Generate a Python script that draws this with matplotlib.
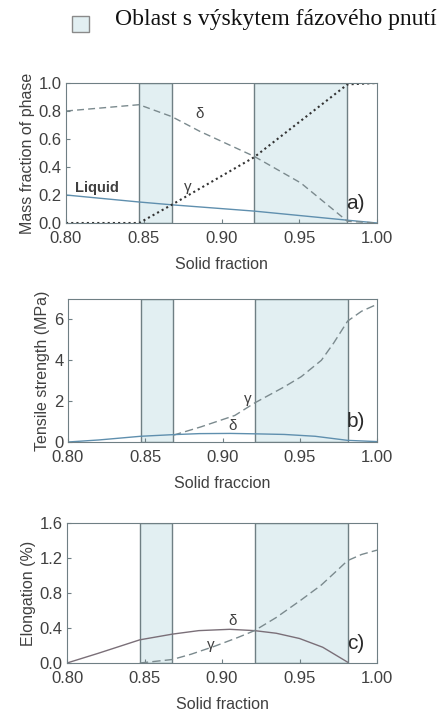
import matplotlib.pyplot as plt
from matplotlib.patches import Rectangle

plt.rcParams['font.family'] = ['Liberation Sans', 'DejaVu Sans']

# shaded regions (solid fraction)
regions = [(0.847, 0.868), (0.921, 0.981)]

# a) mass fraction of phase
liq_x = [0.80, 0.847, 0.868, 0.921, 0.981, 1.00]
liq_y = [0.20, 0.15, 0.13, 0.085, 0.02, 0.0]
da_x = [0.80, 0.847, 0.868, 0.886, 0.921, 0.951, 0.981, 1.00]
da_y = [0.80, 0.845, 0.76, 0.655, 0.476, 0.286, 0.012, 0.0]
ga_x = [0.80, 0.847, 0.868, 0.921, 0.981, 1.00]
ga_y = [0.0, 0.0, 0.13, 0.47, 0.99, 1.0]

# b) tensile strength
gb_x = [0.868, 0.886, 0.908, 0.921, 0.940, 0.951, 0.964, 0.972, 0.981, 0.99, 1.00]
gb_y = [0.33, 0.74, 1.3, 1.92, 2.7, 3.2, 4.0, 4.85, 5.92, 6.4, 6.74]
db_x = [0.80, 0.82, 0.847, 0.868, 0.885, 0.905, 0.921, 0.94, 0.96, 0.981, 1.00]
db_y = [0.0, 0.1, 0.28, 0.36, 0.41, 0.42, 0.4, 0.37, 0.28, 0.08, 0.02]

# c) elongation
dc_x = [0.80, 0.82, 0.847, 0.868, 0.885, 0.905, 0.921, 0.935, 0.95, 0.965, 0.981]
dc_y = [0.0, 0.11, 0.265, 0.33, 0.37, 0.385, 0.37, 0.34, 0.28, 0.18, 0.01]
gc_x = [0.847, 0.868, 0.88, 0.895, 0.91, 0.921, 0.935, 0.951, 0.964, 0.975,
        0.981, 0.99, 1.00]
gc_y = [0.0, 0.04, 0.10, 0.19, 0.29, 0.37, 0.52, 0.72, 0.89, 1.07,
        1.17, 1.24, 1.29]

xticks = [0.80, 0.85, 0.90, 0.95, 1.00]
txt = '#404040'
edge = '#6f7f84'
shade = '#e2eff2'


def setup(ax, ymax, yticks, ylabel, xlabel, tag):
    for lo, hi in regions:
        ax.add_patch(Rectangle((lo, 0), hi - lo, ymax, facecolor=shade,
                               edgecolor=edge, lw=1.0, zorder=0))
    ax.set_xlim(0.80, 1.00)
    ax.set_ylim(0, ymax)
    ax.set_xticks(xticks)
    ax.set_xticklabels(['%.2f' % v for v in xticks])
    ax.set_yticks(yticks)
    ax.tick_params(direction='in', length=3, colors=edge, labelcolor=txt,
                   labelsize=12)
    ax.tick_params(axis='x', pad=6)
    ax.tick_params(axis='y', pad=3)
    ax.minorticks_off()
    for s in ax.spines.values():
        s.set_color(edge)
    ax.set_ylabel(ylabel, fontsize=11.5, color=txt, labelpad=3)
    ax.set_xlabel(xlabel, fontsize=11.5, color=txt, labelpad=8)
    ax.text(0.992, ymax * 0.14, tag, fontsize=15, color='#2a2a2a', ha='right',
            va='center')


fig = plt.figure(figsize=(4.42, 7.15), dpi=100)

# legend
fig.patches.append(Rectangle((72 / 442, 1 - 32 / 715), 17 / 442, 16 / 715,
                             transform=fig.transFigure, facecolor=shade,
                             edgecolor='#8a8a8a', lw=1.0))
fig.text(115 / 442, 1 - 20 / 715, 'Oblast s výskytem fázového pnutí',
         family='Liberation Serif', fontsize=17, va='center', color='#111111')

ax1 = fig.add_axes([66 / 442, 1 - 223 / 715, 311 / 442, 140 / 715])
setup(ax1, 1.0, [0.0, 0.2, 0.4, 0.6, 0.8, 1.0], 'Mass fraction of phase',
      'Solid fraction', 'a)')
ax1.set_yticklabels(['%.1f' % v for v in [0.0, 0.2, 0.4, 0.6, 0.8, 1.0]])
ax1.plot(liq_x, liq_y, color='#5f8fae', lw=1.0)
ax1.plot(da_x, da_y, color='#7b8a8e', lw=1.0, ls=(0, (5, 3)))
ax1.plot(ga_x, ga_y, color='#333333', lw=1.5, ls=(0, (1, 1.5)))
ax1.text(0.806, 0.25, 'Liquid', fontsize=10.5, fontweight='bold', color=txt,
         va='center')
ax1.text(0.883, 0.78, 'δ', fontsize=11, color=txt, va='center')
ax1.text(0.876, 0.26, 'γ', fontsize=11, color=txt, va='center')

ax2 = fig.add_axes([68 / 442, 1 - 442 / 715, 309 / 442, 143 / 715])
setup(ax2, 7.0, [0, 2, 4, 6], 'Tensile strength (MPa)', 'Solid fraccion', 'b)')
ax2.plot(gb_x, gb_y, color='#7b8a8e', lw=1.0, ls=(0, (6, 3)))
ax2.plot(db_x, db_y, color='#5f8fae', lw=1.0)
ax2.text(0.914, 2.1, 'γ', fontsize=11, color=txt, va='center')
ax2.text(0.904, 0.78, 'δ', fontsize=11, color=txt, va='center')

ax3 = fig.add_axes([67 / 442, 1 - 663 / 715, 310 / 442, 140 / 715])
setup(ax3, 1.6, [0.0, 0.4, 0.8, 1.2, 1.6], 'Elongation (%)', 'Solid fraction',
      'c)')
ax3.set_yticklabels(['%.1f' % v for v in [0.0, 0.4, 0.8, 1.2, 1.6]])
ax3.plot(dc_x, dc_y, color='#7a6f78', lw=1.0)
ax3.plot(gc_x, gc_y, color='#7b8a8e', lw=1.0, ls=(0, (6, 3)))
ax3.text(0.904, 0.48, 'δ', fontsize=11, color=txt, va='center')
ax3.text(0.890, 0.21, 'γ', fontsize=11, color=txt, va='center')

fig.savefig('out.png', dpi=100)
